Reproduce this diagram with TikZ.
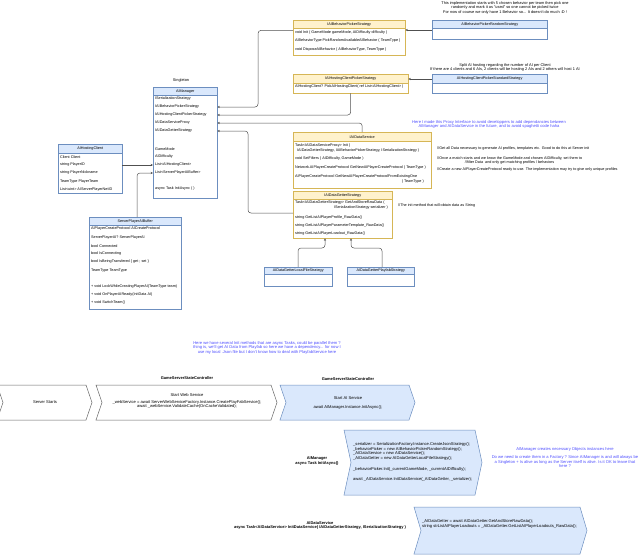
\documentclass[tikz,border=0pt]{standalone}
\usepackage{fontspec}
\setmainfont{Liberation Sans}
\usetikzlibrary{arrows.meta}
\definecolor{cIfHead}{HTML}{FFF2CC}
\definecolor{cIfLine}{HTML}{D6B656}
\definecolor{cClHead}{HTML}{DAE8FC}
\definecolor{cClLine}{HTML}{6C8EBF}
\definecolor{cConn}{HTML}{505050}
\definecolor{cNote}{HTML}{4C4CFF}
\definecolor{cChev}{HTML}{666666}
\newcommand{\fsz}{\fontsize{3.75}{4.4}\selectfont}
\newcommand{\fsn}{\fontsize{3.9}{4.5}\selectfont}
\newcommand{\fsb}{\fontsize{4.1}{4.5}\selectfont}
\newcommand{\umlbox}[8]{%
  \node[#7body, minimum width=#4pt, minimum height=#5pt, anchor=north west] (#1) at (#2,#3) {};
  \node[#7head, minimum width=#4pt, minimum height=#6pt, anchor=north west] (#1h) at (#2,#3) {#8};
}
\begin{document}
\begin{tikzpicture}[x=1pt,y=-1pt,
  ifbody/.style={draw=cIfLine, fill=white, line width=0.4pt, inner sep=0pt},
  ifhead/.style={draw=cIfLine, fill=cIfHead, line width=0.4pt, inner sep=0pt, font=\fsz},
  clbody/.style={draw=cClLine, fill=white, line width=0.4pt, inner sep=0pt},
  clhead/.style={draw=cClLine, fill=cClHead, line width=0.4pt, inner sep=0pt, font=\fsz},
  row/.style={anchor=west, inner sep=0pt, font=\fsz},
  frow/.style={anchor=west, inner sep=0pt, font=\fsb},
  lbl/.style={inner sep=0pt, font=\fsn, align=center},
  flbl/.style={inner sep=0pt, font=\fsb, align=center},
  blbl/.style={inner sep=0pt, font=\fontsize{4.0}{4.6}\selectfont\bfseries, align=center},
  note/.style={inner sep=0pt, font=\fsb, align=center, text=cNote},
  conn/.style={draw=cConn, line width=0.5pt, rounded corners=3pt},
  arr/.style={-{Stealth[length=2.4pt,width=2.2pt]}},
  chevw/.style={draw=cChev, fill=white, line width=0.5pt},
  chevb/.style={draw=cClLine, fill=cClHead, line width=0.5pt}
]
\useasboundingbox (0,0) rectangle (640,555);

% ---------------- class boxes ----------------
\umlbox{amgr}{153}{87}{64}{111}{8}{cl}{AIManager}
\umlbox{ahc}{58}{144}{64}{49}{9}{cl}{AIHostingClient}
\umlbox{spab}{89}{217}{92}{92}{8}{cl}{ServerPlayerAIBuffer}
\umlbox{abps}{293}{20}{112}{35}{8}{if}{IAIBehaviorPickerStrategy}
\umlbox{abprs}{432}{20}{115}{19}{8}{cl}{AIBehaviorPickerRandomStrategy}
\umlbox{ahcps}{293}{74}{115}{19}{9}{if}{IAIHostingClientPickerStrategy}
\umlbox{ahcss}{432}{74}{115}{19}{9}{cl}{AIHostingClientPickerStandardStrategy}
\umlbox{ads}{293}{132}{138}{56}{9}{if}{IAIDataService}
\umlbox{adgs}{293}{191}{99}{47}{8}{if}{IAIDataGetterStrategy}
\umlbox{adglf}{264}{267}{68}{19}{7}{cl}{AIDataGetterLocalFileStrategy}
\umlbox{adgpf}{347}{267}{67}{19}{7}{cl}{AIDataGetterPlayfabStrategy}

\node[lbl] (single) at (181,80) {Singleton};

% AIManager rows
\node[row] (am1) at (155,99) {ISerializationStrategy};
\node[row] (am2) at (155,107) {IAIBehaviorPickerStrategy};
\node[row] (am3) at (155,115) {IAIHostingClientPickerStrategy};
\node[row] (am4) at (155,123) {IAIDataServiceProxy};
\node[row] (am5) at (155,131) {IAIDataGetterStrategy};
\node[row] (am6) at (155,149) {GameMode};
\node[row] (am7) at (155,157) {AIDifficulty};
\node[row] (am8) at (155,165) {List<AIHostingClient>};
\node[row] (am9) at (155,173) {List<ServerPlayerAIBuffer>};
\node[row] (am10) at (155,189) {async Task InitAsync ( )};

% AIHostingClient rows
\node[row] (ahc1) at (60,157) {Client Client};
\node[row] (ahc2) at (60,165) {string PlayerID};
\node[row] (ahc3) at (60,173) {string PlayerNickname};
\node[row] (ahc4) at (60,182) {TeamType PlayerTeam};
\node[row] (ahc5) at (60,190) {List<uint> AIServerPlayerNetID};

% ServerPlayerAIBuffer rows
\node[row] (sp1) at (91,229) {AIPlayerCreateProtocol AICreateProtocol};
\node[row] (sp2) at (91,238) {ServerPlayerAI? ServerPlayerAI};
\node[row] (sp3) at (91,246) {bool Connected};
\node[row] (sp4) at (91,254) {bool IsConnecting};
\node[row] (sp5) at (91,262) {bool IsBeingTransfered \{ get ; set \}};
\node[row] (sp6) at (91,271) {TeamType TeamType};
\node[row] (sp7) at (91,287) {+ void LockWhileCreatingPlayerAI(TeamType team)};
\node[row] (sp8) at (91,295) {+ void OnPlayerAIReady(InitData AI)};
\node[row] (sp9) at (91,303) {+ void SwitchTeam()};

% IAIBehaviorPickerStrategy rows
\node[row] (abp1) at (295,33) {void Init ( GameMode gameMode, AIDifficulty difficulty )};
\node[row] (abp2) at (295,40.5) {AIBehaviorType PickRandomAvailableAIBehavior ( TeamType )};
\node[row] (abp3) at (295,50) {void DisposeAIBehavior ( AIBehaviorType, TeamType )};

% IAIHostingClientPickerStrategy row
\node[row] (ahp1) at (295,87) {AIHostingClient? PickAIHostingClient( ref List<AIHostingClient> )};

% IAIDataService rows
\node[row] (ads1) at (295,146) {Task<IAIDataServiceProxy> Init (};
\node[row] (ads2) at (297,150.5) {IAIDataGetterStrategy, IAIBehaviorPickerStrategy, ISerializationStrategy )};
\node[row] (ads3) at (295,159) {void SetFilters ( AIDifficulty, GameMode )};
\node[row] (ads4) at (295,168) {Network.AIPlayerCreateProtocol GetNewAIPlayerCreateProtocol ( TeamType )};
\node[row] (ads5) at (295,177) {AIPlayerCreateProtocol GetNewAIPlayerCreateProtocolFromExistingOne};
\node[row, anchor=east] (ads6) at (424,181.5) {( TeamType )};

% IAIDataGetterStrategy rows
\node[row] (adg1) at (295,203) {Task<IAIDataGetterStrategy> GetAndStoreRawData (};
\node[row, anchor=east] (adg2) at (388,208) {ISerializationStrategy serializer )};
\node[row] (adg3) at (295,218) {string GetListAIPlayerProfile\_RawData()};
\node[row] (adg4) at (295,226) {string GetListAIPlayerParameterTemplate\_RawData()};
\node[row] (adg5) at (295,234) {string GetListAIPlayerLoadout\_RawData()};

% ---------------- comments / notes ----------------
\node[lbl] (nRand) at (505,7.8) {This implementation starts with 5 chosen behavior per team then pick one\\randomly and mark it as "used" so one cannot be picked twice\\For now of course we only have 1 Behavior so... It doesn't do much :D !};
\node[lbl] (nHost) at (505,67.3) {Split AI hosting regarding the number of AI per Client\\If there are 4 clients and 6 AIs, 2 clients will be hosting 2 AIs and 2 others will host 1 AI};
\node[note] (nProxy) at (489,124.5) {Here I made this Proxy Interface to avoid developpers to add dependancies between\\AIManager and AIDataService in the future, and to avoid spaghetti code haha};
\node[row] (cm1) at (437,149) {//Get all Data necessary to generate AI profiles, templates etc. Good to do this at Server init};
\node[row, align=center] (cm2) at (437,160.5) {//Once a match starts and we know the GameMode and chosen AIDifficulty, set them to\\//filter Data\ \ and only get matching profiles / behaviors};
\node[row] (cm3) at (437,169.5) {//Create a new AIPlayerCreateProtocol ready to use. The implementation may try to give only unique profiles};
\node[row] (cm4) at (398,206) {//The init method that will obtain data as String};

% ---------------- connectors ----------------
\draw[conn,arr] ([yshift=-2pt]abpsh.south west) -- ++(-35,0) |- (amgr.east |- am2);
\draw[conn,arr] (ahcps.south) |- (amgr.east |- am3);
\draw[conn,arr] (ads.north) |- (amgr.east |- am4);
\draw[conn,arr] (adgs.west |- 0,213) -- ++(-45,0) |- (amgr.east |- am5);
\draw[conn,arr] (abprs.west |- 0,30) -- (abps.east |- 0,30);
\draw[conn,arr] (ahcss.west |- 0,79) -- (ahcps.east |- 0,79);
\draw[conn,arr] (298,0 |- adglf.north) -- (298,248) -| (325,0 |- adgs.south);
\draw[conn,arr] (382,0 |- adgpf.north) -- (382,248) -| (351,0 |- adgs.south);
\draw[conn,arr] (ahc.east |- ahc2) -- (amgr.west |- ahc2);
\draw[conn,arr] (137,0 |- spab.north) |- (amgr.west |- am9);

% ---------------- flow ----------------
\node[note] (nAsync) at (267,347.5) {Here we have several Init methods that are async Tasks, could be parallel them ?\\thing is, we'll get AI Data from Playfab so here we have a dependency... for now I\\use my local .Json file but I don't know how to deal with PlayfabService here};

\path[chevw] (-3,385) -- (86,385) -- (92,402.5) -- (86,420) -- (-3,420) -- (3,402.5) -- cycle;
\path[chevw] (96,385) -- (271,385) -- (277,402.5) -- (271,420) -- (96,420) -- (102,402.5) -- cycle;
\path[chevb] (280,385) -- (409,385) -- (415,402.5) -- (409,420) -- (280,420) -- (286,402.5) -- cycle;
\path[chevb] (344,430) -- (475,430) -- (482,462.5) -- (475,495) -- (344,495) -- (351,462.5) -- cycle;
\path[chevb] (414,507) -- (580,507) -- (587,530.5) -- (580,554) -- (414,554) -- (421,530.5) -- cycle;

\node[flbl] (fs1) at (45,402.5) {Server Starts};
\node[blbl] (gsc1) at (187,378) {GameServerStateController};
\node[flbl] (fs2) at (187,395) {Start Web Service};
\node[flbl] (fs2b) at (187,404.5) {\_webService = await ServerWebServiceFactory.Instance.CreatePlayFabService();\\await \_webService.ValidateCache(OnCacheValidated);};
\node[blbl] (gsc2) at (348,379) {GameServerStateController};
\node[flbl] (fs3) at (348,398) {Start AI Service};
\node[flbl] (fs3b) at (348,407) {await AIManager.Instance.InitAsync();};

\node[blbl] (lAM) at (317,461) {AIManager\\async Task InitAsync()};
\node[frow, align=left] (fm1) at (353,451.5) {\_serializer = SerializationFactory.Instance.CreateJsonStrategy();\\\_behaviorPicker = new AIBehaviorPickerRandomStrategy();\\\_AIDataService = new AIDataService();\\\_AIDataGetter = new AIDataGetterLocalFileStrategy();};
\node[frow] (fm2) at (353,469) {\_behaviorPicker.Init(\_currentGameMode, \_currentAIDifficulty);};
\node[frow] (fm3) at (353,479) {await \_AIDataService.InitDataService(\_AIDataGetter, \_serializer);};
\node[note] (nFactory) at (565,457.5) {AIManager creates necessary Objects instances here\\[4pt]Do we need to create them in a Factory ? Since AIManager is and will always be\\a Singleton + Is alive as long as the Server itself is alive. Is it OK to leave that\\here ?};

\node[blbl] (lADS) at (320,525.5) {AIDataService\\async Task<AIDataService> InitDataService( IAIDataGetterStrategy, ISerializationStrategy )};
\node[frow, align=left] (fd1) at (422,524) {\_AIDataGetter = await AIDataGetter.GetAndStoreRawData();\\string strListAIPlayerLoadouts = \_AIDataGetter.GetListAIPlayerLoadouts\_RawData();};
\end{tikzpicture}
\end{document}
